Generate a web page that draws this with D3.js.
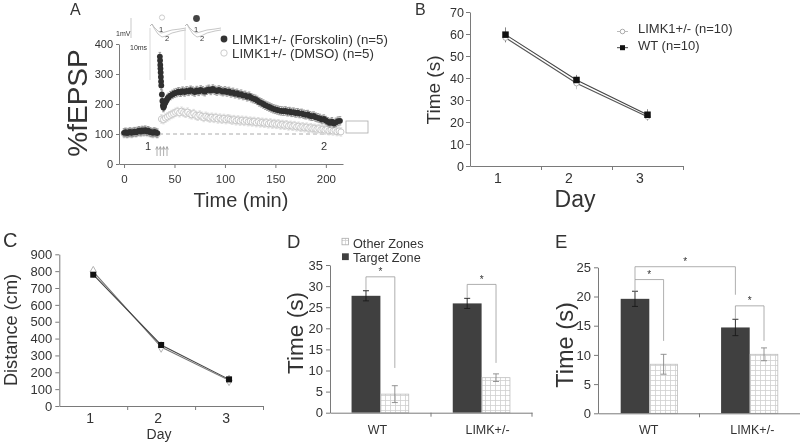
<!DOCTYPE html>
<html><head><meta charset="utf-8">
<script src="https://cdn.jsdelivr.net/npm/d3@7"></script>
<style>
body{margin:0;background:#fff}
svg{display:block}
text{font-family:"Liberation Sans",Arial,sans-serif;fill:#333}
</style></head>
<body><svg id="c" width="800" height="443"></svg>
<script>
// ---------------- Panel A : LTP time course ----------------
const ltpTimeTicks = [0, 50, 100, 150, 200];
const ltpPctTicks = [0, 100, 200, 300, 400];
const forskolinTime = [0,1.5,3,4.5,6,7.5,9,10.5,12,13.5,15,16.5,18,19.5,21,22.5,24,25.5,27,28.5,30,31.5,33,
 35.5,35.7,35.9,36.1,36.3,36.5,36.7,36.9,
 37.5,38,38.5,39,39.5,40,41,42,43,44,
 46,48,50,52,54,56,58,60,62,64,66,68,70,72,74,76,78,80,82,84,86,88,90,92,94,96,98,100,102,104,106,108,110,112,114,116,118,120,122,124,126,128,130,132,134,136,138,140,142,144,146,148,150,152,154,156,158,160,162,164,166,168,170,172,174,176,178,180,182,184,186,188,190,192,194,196,198,200,202,204,206,208,210,212,214];
const forskolinPct = [104,106,103,105,107,104,106,108,106,109,111,108,112,110,113,109,111,107,106,104,107,105,103,
 358,345,330,318,305,290,275,262,
 232,210,195,188,192,198,205,212,218,222,
 228,232,236,238,241,239,243,240,244,242,
 246,243,240,245,242,247,244,241,246,249,
 245,250,246,243,247,244,241,244,240,242,
 237,239,234,236,231,233,228,229,224,226,
 221,218,216,212,207,204,200,196,193,190,
 187,184,182,180,178,177,176,177,174,175,
 172,173,170,171,168,169,166,164,165,161,
 159,160,156,154,152,148,150,145,141,137,
 141,135,139,143,144];
const dmsoTime = [0,1.5,3,4.5,6,7.5,9,10.5,12,13.5,15,16.5,18,19.5,21,22.5,24,25.5,27,28.5,30,31.5,33,
 37,39,41,43,45,47,49,51,53,55,57,59,61,63,65,67,69,71,73,75,77,79,81,83,85,87,89,91,93,95,97,99,101,103,105,107,109,111,113,115,117,119,121,123,125,127,129,131,133,135,137,139,141,143,145,147,149,151,153,155,157,159,161,163,165,167,169,171,173,175,177,179,181,183,185,187,189,191,193,195,197,199,201,203,205,207,209,211,213,215];
const dmsoPct = [101,103,100,102,104,101,103,105,103,106,107,105,108,106,109,105,107,104,103,101,104,102,100,
 150,148,153,157,161,165,168,172,175,171,
 176,172,169,173,167,164,168,162,159,163,
 159,155,159,156,153,156,152,155,150,153,
 149,152,148,151,149,146,148,144,147,143,
 146,142,145,141,143,140,142,138,141,137,
 139,136,138,134,137,133,135,132,134,130,
 132,129,131,127,129,126,128,124,126,122,
 124,121,123,119,121,118,119,116,118,114,
 116,113,115,111,113,110,112,108,110,107];
const forskolinSEM = 14;
const dmsoSEM = 14;
const ltpLegend = ["LIMK1+/- (Forskolin) (n=5)", "LIMK1+/- (DMSO) (n=5)"];

// ---------------- Panel B : escape latency ----------------
const days = [1, 2, 3];
const latencyTicks = [0, 10, 20, 30, 40, 50, 60, 70];
const latencyLIMK = [58.3, 37.6, 22.4];
const latencyLIMKErr = [2.3, 2.7, 1.8];
const latencyWT = [59.7, 39.1, 23.3];
const latencyWTErr = [3.3, 2.3, 2.5];
const latencyLegend = ["LIMK1+/- (n=10)", "WT (n=10)"];

// ---------------- Panel C : distance ----------------
const distanceTicks = [0,100,200,300,400,500,600,700,800,900];
const distanceLIMK = [797, 350, 152];
const distanceLIMKErr = [18, 14, 9];
const distanceWT = [779, 362, 158];
const distanceWTErr = [16, 12, 8];

// ---------------- Panel D : probe trial ----------------
const groups = ["WT", "LIMK+/-"];
const probeTicks = [0,5,10,15,20,25,30,35];
const probeTarget = [27.7, 25.9];
const probeTargetErr = [1.2, 1.2];
const probeOther = [4.4, 8.3];
const probeOtherErr = [2.0, 0.9];
const probeBracketTop = [32.2, 30.4];
const probeBracketLeft = [29.1, 27.2];
const probeBracketRight = [10.6, 11.8];
const zoneLegend = ["Other Zones", "Target Zone"];

// ---------------- Panel E ----------------
const panelETicks = [0,5,10,15,20,25];
const panelETarget = [19.6, 14.7];
const panelETargetErr = [1.3, 1.4];
const panelEOther = [8.4, 10.1];
const panelEOtherErr = [1.7, 1.1];
const panelEBracketTop = [22.9, 18.4];
const panelEBracketLeft = [20.8, 16.1];
const panelEBracketRight = [12.4, 12.4];
const panelEOuterBracket = [25.1, 22.9, 20.3]; // top, left end, right end

// =====================================================
const root = d3.select("#c");
root.append("rect").attr("width",800).attr("height",443).attr("fill","#fff");
const svg = root.append("g").attr("opacity", 0.999);
const AX = "#7a7a7a", TXT = "#333";

const defs = root.append("defs");
const pat = defs.append("pattern").attr("id","grid").attr("patternUnits","userSpaceOnUse")
  .attr("width",5).attr("height",5);
pat.append("rect").attr("width",5).attr("height",5).attr("fill","#fff");
pat.append("path").attr("d","M0 0.5H5M0.5 0V5").attr("stroke","#cfcfcf").attr("stroke-width",0.8);

function styleAxis(g, font, size) {
  g.attr("font-family", font).attr("font-size", size);
  g.select(".domain").attr("stroke", AX);
  g.selectAll(".tick line").attr("stroke", AX);
  g.selectAll(".tick text").attr("fill", TXT);
}
function label(x, y, s, size, anchor, extra) {
  const t = svg.append("text").attr("x", x).attr("y", y).text(s)
    .attr("font-size", size).attr("text-anchor", anchor || "start").attr("fill", TXT);
  if (extra) extra(t);
  return t;
}
function vlabel(x, y, s, size) {
  return svg.append("text").attr("transform", `translate(${x},${y}) rotate(-90)`)
    .attr("text-anchor", "middle").attr("font-size", size).attr("fill", TXT).text(s);
}

// ---------------- Panel A ----------------
{
  const x = d3.scaleLinear([-5, 217], [119, 343]);
  const y = d3.scaleLinear([0, 400], [164, 44]);
  const g = svg.append("g");

  // inset traces (illustrative)
  const shallow = [[0,0],[2,-2],[4,1],[8,5],[11,7],[15,6],[22,4],[30,3],[36,2]];
  const deep = [[0,0],[2,-2],[4,2],[8,8],[12,11],[16,10],[22,7],[30,5],[36,4]];
  const ln = d3.line();
  [[150,26],[185,26]].forEach(([ox,oy]) => {
    g.append("line").attr("x1",ox).attr("x2",ox).attr("y1",oy+2).attr("y2",oy+54).attr("stroke","#cfcfcf").attr("stroke-width",0.8);
    [shallow, deep].forEach(tr => g.append("path").attr("d", ln(tr.map(p=>[ox+p[0], oy+p[1]])))
      .attr("fill","none").attr("stroke","#b8b8b8").attr("stroke-width",0.8));
    label(ox+9, oy+6, "1", 7.5, "start", t=>t.attr("fill","#777"));
    label(ox+15, oy+15, "2", 7.5, "start", t=>t.attr("fill","#777"));
  });
  g.append("circle").attr("cx",162).attr("cy",17.5).attr("r",2.6).attr("fill","#fff").attr("stroke","#ccc");
  g.append("circle").attr("cx",196.5).attr("cy",18.5).attr("r",3.4).attr("fill","#444");
  g.append("line").attr("x1",131).attr("x2",131).attr("y1",18).attr("y2",38).attr("stroke","#bbb").attr("stroke-width",0.8);
  label(116, 36, "1mV", 7, "start", t=>t.attr("fill","#666"));
  label(130, 50, "10ms", 7, "start", t=>t.attr("fill","#666"));

  g.append("g").attr("transform","translate(0,164)")
    .call(d3.axisBottom(x).tickValues(ltpTimeTicks).tickSize(4).tickPadding(7).tickSizeOuter(0))
    .call(styleAxis, "DejaVu Sans", 11.5);
  g.append("g").attr("transform","translate(119,0)")
    .call(d3.axisLeft(y).tickValues(ltpPctTicks).tickSize(3).tickPadding(3).tickSizeOuter(0))
    .call(styleAxis, "DejaVu Sans", 11);

  g.append("line").attr("x1", x(0)).attr("x2", x(217)).attr("y1", y(100)).attr("y2", y(100))
    .attr("stroke","#aaa").attr("stroke-dasharray","4,3");

  const dm = dmsoTime.map((t,i)=>({t, v:dmsoPct[i]}));
  const fk = forskolinTime.map((t,i)=>({t, v:forskolinPct[i]}));
  const errPath = (d, sem) => {
    const cx = x(d.t), y1 = y(d.v - sem), y2 = y(d.v + sem);
    return `M${cx},${y1}V${y2}M${cx-1.3},${y1}H${cx+1.3}M${cx-1.3},${y2}H${cx+1.3}`;
  };
  g.append("g").selectAll("path").data(dm).join("path")
    .attr("d", d=>errPath(d, dmsoSEM)).attr("fill","none").attr("stroke","#d8d8d8").attr("stroke-width",0.8);
  g.append("g").selectAll("circle").data(dm).join("circle")
    .attr("cx",d=>x(d.t)).attr("cy",d=>y(d.v)).attr("r",3)
    .attr("fill","#fff").attr("stroke","#c4c4c4").attr("stroke-width",0.9);
  g.append("g").selectAll("path").data(fk).join("path")
    .attr("d", d=>errPath(d, forskolinSEM)).attr("fill","none").attr("stroke","#8a8a8a").attr("stroke-width",0.8);
  g.append("g").selectAll("circle").data(fk).join("circle")
    .attr("cx",d=>x(d.t)).attr("cy",d=>y(d.v)).attr("r",2.9).attr("fill","#303030");

  // stimulus arrows and sample markers
  [157,160.3,163.6,167].forEach(ax => {
    g.append("line").attr("x1",ax).attr("x2",ax).attr("y1",147).attr("y2",156).attr("stroke","#999").attr("stroke-width",0.8);
    g.append("path").attr("d",`M${ax-1.3},${149.5}L${ax},${146.5}L${ax+1.3},${149.5}`).attr("fill","none").attr("stroke","#999").attr("stroke-width",0.8);
  });
  label(148, 150, "1", 11, "middle");
  label(324, 150, "2", 11, "middle");
  g.append("rect").attr("x",346).attr("y",121).attr("width",22).attr("height",12).attr("fill","none").attr("stroke","#aaa").attr("stroke-width",0.8);

  // legend
  g.append("circle").attr("cx",224).attr("cy",39).attr("r",3.4).attr("fill","#333");
  g.append("circle").attr("cx",224).attr("cy",53).attr("r",3.2).attr("fill","#fff").attr("stroke","#ccc");
  label(232, 43.5, ltpLegend[0], 13.3);
  label(232, 57.5, ltpLegend[1], 13.3);

  vlabel(87, 103, "%fEPSP", 28);
  label(241, 207, "Time (min)", 20, "middle");
  label(70, 15, "A", 16);
}

// ---------------- line panels B & C ----------------
function linePanel(o) {
  const x = d3.scaleLinear([0.5, 3.5], o.xr);
  const y = d3.scaleLinear([0, o.ymax], o.yr);
  const g = svg.append("g");
  g.append("g").attr("transform",`translate(0,${o.yr[0]})`)
    .call(d3.axisBottom(x).tickValues([1.5,2.5,3.5]).tickFormat("").tickSize(4).tickSizeOuter(0))
    .call(styleAxis, "Liberation Sans", 14);
  const lab = g.append("g").attr("transform",`translate(0,${o.yr[0]})`)
    .call(d3.axisBottom(x).tickValues(days).tickFormat(d3.format("d")).tickSize(0).tickPadding(7))
    .call(styleAxis, "Liberation Sans", 14);
  lab.select(".domain").remove();
  lab.selectAll("text").attr("dx", o.labDx);
  g.append("g").attr("transform",`translate(${o.xr[0]},0)`)
    .call(d3.axisLeft(y).tickValues(o.ticks).tickSize(4).tickPadding(o.pad).tickSizeOuter(0))
    .call(styleAxis, "DejaVu Sans", o.tickFont);

  const L = days.map((d,i)=>({d, v:o.limk[i], e:o.limkErr[i]}));
  const W = days.map((d,i)=>({d, v:o.wt[i], e:o.wtErr[i]}));
  const line = d3.line().x(p=>x(p.d)).y(p=>y(p.v));
  [[L,"#bbb"],[W,"#666"]].forEach(([s,c]) => g.append("g").selectAll("line").data(s).join("line")
    .attr("x1",p=>x(p.d)).attr("x2",p=>x(p.d)).attr("y1",p=>y(p.v-p.e)).attr("y2",p=>y(p.v+p.e)).attr("stroke",c).attr("stroke-width",0.8));
  g.append("path").attr("d", line(L)).attr("fill","none").attr("stroke", o.limkLine).attr("stroke-width",1.1);
  g.append("path").attr("d", line(W)).attr("fill","none").attr("stroke","#444").attr("stroke-width",1.1);
  g.append("g").selectAll("path").data(L).join("path")
    .attr("transform",p=>`translate(${x(p.d)},${y(p.v)})`)
    .attr("d", d3.symbol(o.limkSym, o.limkSize)())
    .attr("fill","#fff").attr("stroke","#aaa").attr("stroke-width",0.9);
  g.append("g").selectAll("rect").data(W).join("rect")
    .attr("x",p=>x(p.d)-o.sq/2).attr("y",p=>y(p.v)-o.sq/2).attr("width",o.sq).attr("height",o.sq).attr("fill","#111");
  return {x, y, g};
}

{
  const p = linePanel({xr:[470,683], yr:[166,12], ymax:70, ticks:latencyTicks, tickFont:12.5, pad:2,
    limk:latencyLIMK, limkErr:latencyLIMKErr, wt:latencyWT, wtErr:latencyWTErr, labDx:-8,
    limkSym:d3.symbolCircle, limkSize:22, limkLine:"#555", sq:6.5});
  const g = p.g;
  g.append("line").attr("x1",617).attr("x2",628).attr("y1",31.5).attr("y2",31.5).attr("stroke","#bbb");
  g.append("circle").attr("cx",622.5).attr("cy",31.5).attr("r",2.3).attr("fill","#fff").attr("stroke","#aaa");
  g.append("line").attr("x1",617).attr("x2",628).attr("y1",47.7).attr("y2",47.7).attr("stroke","#444");
  g.append("rect").attr("x",620).attr("y",45.2).attr("width",5).attr("height",5).attr("fill","#111");
  label(638, 32.5, latencyLegend[0], 13);
  label(638, 49.5, latencyLegend[1], 13);
  vlabel(440, 90, "Time (s)", 19);
  label(575, 207, "Day", 23, "middle");
  label(415, 15, "B", 16);
}
{
  linePanel({xr:[59.3,263], yr:[406,254.3], ymax:900, ticks:distanceTicks, tickFont:13, pad:3,
    limk:distanceLIMK, limkErr:distanceLIMKErr, wt:distanceWT, wtErr:distanceWTErr, labDx:-3.5,
    limkSym:d3.symbolDiamond, limkSize:32, limkLine:"#777", sq:6});
  vlabel(17, 330, "Distance (cm)", 18.2);
  label(159, 439, "Day", 14, "middle");
  label(3, 247, "C", 20);
}

// ---------------- bar panels D & E ----------------
function barPanel(o) {
  const xo = d3.scaleBand(groups, o.xr);
  const xb = d3.scaleBand(groups, o.xr).paddingInner(0.43).paddingOuter(o.po);
  const xs = d3.scaleBand(["target","other"], [0, xb.bandwidth()]);
  const y = d3.scaleLinear([0, o.ymax], o.yr);
  const g = svg.append("g");
  const rows = groups.map((c,i)=>({c, t:o.target[i], te:o.targetErr[i], ot:o.other[i], oe:o.otherErr[i]}));

  g.append("g").selectAll("rect").data(rows).join("rect")
    .attr("x",d=>xb(d.c)+xs("target")).attr("width",xs.bandwidth())
    .attr("y",d=>y(d.t)).attr("height",d=>y(0)-y(d.t)).attr("fill","#404040");
  g.append("g").selectAll("rect").data(rows).join("rect")
    .attr("x",d=>xb(d.c)+xs("other")+0.5).attr("width",xs.bandwidth()-1)
    .attr("y",d=>y(d.ot)).attr("height",d=>y(0)-y(d.ot)).attr("fill","url(#grid)").attr("stroke","#bdbdbd").attr("stroke-width",0.8);

  const eb = (cx, v, e, col) => {
    g.append("path").attr("d",`M${cx},${y(v-e)}V${y(v+e)}M${cx-3},${y(v+e)}H${cx+3}M${cx-3},${y(v-e)}H${cx+3}`)
      .attr("stroke",col).attr("stroke-width",0.9).attr("fill","none");
  };
  rows.forEach(d => {
    eb(xb(d.c)+xs("target")+xs.bandwidth()/2, d.t, d.te, "#1a1a1a");
    eb(xb(d.c)+xs("other")+xs.bandwidth()/2, d.ot, d.oe, "#888");
  });

  const xl = g.append("g").attr("transform",`translate(0,${o.yr[0]})`)
    .call(d3.axisBottom(xo).tickSize(0).tickPadding(o.labPad).tickSizeOuter(0))
    .call(styleAxis, "DejaVu Sans", 12.5);
  xl.selectAll(".tick text").attr("dx", (d,i)=>o.labDx[i]);
  g.append("g").selectAll("line").data([xo.range()[0]+xo.step(), xo.range()[1]]).join("line")
    .attr("x1",d=>d).attr("x2",d=>d).attr("y1",o.yr[0]).attr("y2",o.yr[0]+4).attr("stroke",AX);
  g.append("g").attr("transform",`translate(${o.xr[0]},0)`)
    .call(d3.axisLeft(y).tickValues(o.ticks).tickSize(4).tickPadding(3).tickSizeOuter(0))
    .call(styleAxis, "Liberation Sans", 13);

  const bracket = (xl, xr, top, yl, yr) => {
    g.append("path").attr("d",`M${xl},${y(yl)}V${y(top)}H${xr}V${y(yr)}`)
      .attr("fill","none").attr("stroke","#9a9a9a").attr("stroke-width",0.8);
    label((xl+xr)/2, y(top)-1.5, "*", 10, "middle", t=>t.attr("fill","#555"));
  };
  const cxT = c => xb(c)+xs("target")+xs.bandwidth()/2;
  const cxO = c => xb(c)+xs("other")+xs.bandwidth()/2;
  groups.forEach((c,i) => bracket(cxT(c), cxO(c), o.bTop[i], o.bLeft[i], o.bRight[i]));
  if (o.outer) bracket(cxT(groups[0]), cxT(groups[1]), o.outer[0], o.outer[1], o.outer[2]);
  return g;
}

{
  const g = barPanel({xr:[330,532], yr:[412.7,265], ymax:35, ticks:probeTicks, po:0.213, labPad:12, labDx:[-3,6],
    target:probeTarget, targetErr:probeTargetErr, other:probeOther, otherErr:probeOtherErr,
    bTop:probeBracketTop, bLeft:probeBracketLeft, bRight:probeBracketRight});
  g.append("rect").attr("x",342).attr("y",238.3).attr("width",6.5).attr("height",6.5).attr("fill","url(#grid)").attr("stroke","#aaa").attr("stroke-width",0.8);
  g.append("rect").attr("x",342).attr("y",253.3).attr("width",6.8).attr("height",6.8).attr("fill","#404040");
  label(353, 247.5, zoneLegend[0], 12.7);
  label(353, 261.5, zoneLegend[1], 12.7);
  vlabel(302.5, 333, "Time (s)", 22.6);
  label(287, 248, "D", 18.5);
}
{
  barPanel({xr:[598,801], yr:[413.3,267.3], ymax:25, ticks:panelETicks, po:0.226, labPad:12, labDx:[0,2],
    target:panelETarget, targetErr:panelETargetErr, other:panelEOther, otherErr:panelEOtherErr,
    bTop:panelEBracketTop, bLeft:panelEBracketLeft, bRight:panelEBracketRight, outer:panelEOuterBracket});
  vlabel(572.5, 345, "Time (s)", 23.6);
  label(555, 248, "E", 18.5);
}
</script>
</body></html>
